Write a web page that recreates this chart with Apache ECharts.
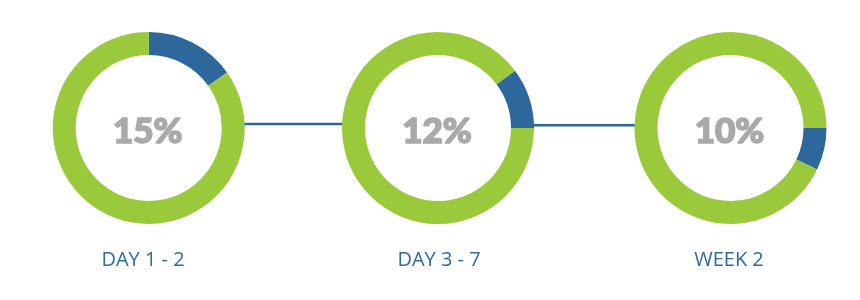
<!DOCTYPE html>
<html>
<head>
<meta charset="utf-8">
<script src="https://cdn.jsdelivr.net/npm/echarts@6/dist/echarts.min.js"></script>
<style>
html,body{margin:0;padding:0;background:#fff;}
#chart{width:860px;height:300px;}
</style>
</head>
<body>
<div id="chart"></div>
<script>
// Data
var stages = ["DAY 1 - 2", "DAY 3 - 7", "WEEK 2"];
var pctLabels = ["15%", "12%", "10%"];
// highlighted arc share (percent of ring) as drawn in the picture
var arcShare = [15.2, 10.2, 7.1];
// where each highlighted arc begins (ECharts degrees, 90 = 12 o'clock)
var arcStart = [90, 36.7, 0];

var centersX = [148.7, 438, 730.5];
var centerY = 128;
var BLUE = '#2d679b';
var GREEN = '#9aca3c';

var chart = echarts.init(document.getElementById('chart'), null, {renderer: 'canvas'});

var series = stages.map(function (s, i) {
  return {
    type: 'pie',
    z: 5,
    center: [centersX[i], centerY],
    radius: [73, 96],
    startAngle: arcStart[i],
    clockwise: true,
    silent: true,
    animation: false,
    label: {show: false},
    labelLine: {show: false},
    emphasis: {disabled: true},
    itemStyle: {borderWidth: 0},
    data: [
      {value: arcShare[i], name: s, itemStyle: {color: BLUE}},
      {value: 100 - arcShare[i], name: s + ' rest', itemStyle: {color: GREEN}}
    ]
  };
});

var labelX = [143, 439, 729];
var titles = [];
stages.forEach(function (s, i) {
  titles.push({
    text: s, left: labelX[i], top: 250, textAlign: 'center', padding: 0,
    textStyle: {fontFamily: 'Open Sans', fontWeight: 400, fontSize: 20, color: '#2e6aa1'}
  });
  titles.push({
    text: pctLabels[i], left: centersX[i] - 1, top: 114, textAlign: 'center', padding: 0, z: 10,
    textStyle: {
      fontFamily: 'Lato', fontWeight: 900, fontSize: 35, color: '#a9a9a9',
      textBorderColor: '#a9a9a9', textBorderWidth: 1.6
    }
  });
});

chart.setOption({
  animation: false,
  backgroundColor: '#ffffff',
  title: titles,
  graphic: [
    {type: 'line', z: 1, shape: {x1: 244, y1: 124, x2: 343, y2: 124}, style: {stroke: BLUE, lineWidth: 2.5}},
    {type: 'line', z: 1, shape: {x1: 533, y1: 125.3, x2: 636, y2: 125.3}, style: {stroke: BLUE, lineWidth: 2.5}}
  ],
  series: series
});
</script>
</body>
</html>
